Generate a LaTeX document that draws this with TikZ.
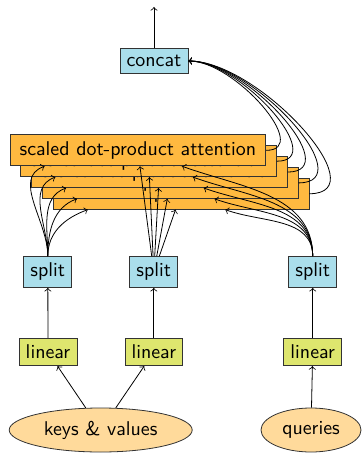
\documentclass[tikz,border=0pt]{standalone}
\usetikzlibrary{shapes.geometric,calc}
\definecolor{boxblue}{RGB}{170,222,235}
\definecolor{boxlime}{RGB}{222,230,110}
\definecolor{boxorange}{RGB}{255,185,64}
\definecolor{boxpeach}{RGB}{255,218,155}
\begin{document}
\begin{tikzpicture}[x=0.5bp,y=-0.5bp,font=\sffamily,
  blk/.style={draw=black!80,rectangle},
  bluebox/.style={blk,fill=boxblue},
  limebox/.style={blk,fill=boxlime},
  attbox/.style={blk,fill=boxorange,minimum width=127.85bp},
  inbox/.style={draw=black!80,ellipse,fill=boxpeach,minimum height=22bp,inner sep=0pt},
  conn/.style={->,black}]
\useasboundingbox (0,0) rectangle (362,453);
% inputs
\node[inbox,minimum width=91.5bp] (kv) at (100.7,430) {keys \& values};
\node[inbox,minimum width=50bp] (q) at (311,430) {queries};
% linear
\node[limebox] (lin1) at (48,352) {linear};
\node[limebox] (lin2) at (153.8,352) {linear};
\node[limebox] (lin3) at (312.7,352) {linear};
% split
\node[bluebox] (split1) at (47.8,272) {split};
\node[bluebox] (split2) at (153.8,272) {split};
\node[bluebox] (split3) at (312.7,272) {split};
% concat
\node[bluebox] (concat) at (154,61) {concat};
\coordinate (out) at (154,7);
% attention stack (back to front)
\foreach \k in {4,3,2,1,0} {
  \node[attbox] (att\k) at ({137.85+10.8*\k},{150.35+10.85*\k}) {scaled dot-product attention};
}
\foreach \k in {0,...,4} {
  \coordinate (tl\k) at ($(att\k.south west)+(35,0)$);
  \coordinate (tr\k) at ($(att\k.south west)+(172.5,0)$);
}
% connectors
\draw[conn] (kv) -- (lin1);
\draw[conn] (kv) -- (lin2);
\draw[conn] (q) -- (lin3);
\draw[conn] (lin1) -- (split1);
\draw[conn] (lin2) -- (split2);
\draw[conn] (lin3) -- (split3);
\foreach \k in {0,...,4} {
  \draw[conn] (split1.north) to[out=90,in=200] (tl\k);
  \draw[conn] (split2) -- (att\k);
  \draw[conn] (split3.north) to[out=90,in=-20] (tr\k);
  \draw[conn] (att\k.east) to[out=0,in=0] (concat.east);
}
\draw[conn] (concat) -- (out);
\end{tikzpicture}
\end{document}
